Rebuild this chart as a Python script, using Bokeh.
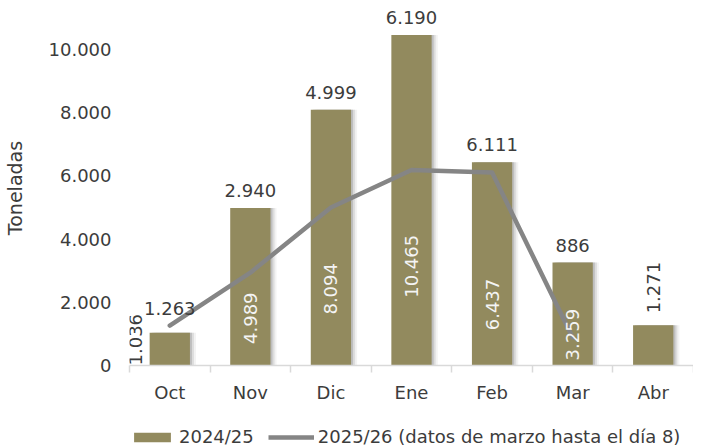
import numpy as np
from bokeh.plotting import figure
from bokeh.layouts import column
from bokeh.models import FixedTicker, Range1d, Legend, LegendItem
from bokeh.core.properties import value
from bokeh.embed import file_html
from bokeh.resources import INLINE

months = ["Oct", "Nov", "Dic", "Ene", "Feb", "Mar", "Abr"]
s2425 = [1036, 4989, 8094, 10465, 6437, 3259, 1271]
s2526 = [1263, 2940, 4999, 6190, 6111, 886]
series_names = ["2024/25", "2025/26 (datos de marzo hasta el día 8)"]
y_ticks = [0, 2000, 4000, 6000, 8000, 10000]
y_tick_labels = ["0", "2.000", "4.000", "6.000", "8.000", "10.000"]


def fmt(v):
    return f"{v:,}".replace(",", ".")


FONT = value("DejaVu Sans")
FS = "18px"
OLIVE = "#928a5e"
GRAY = "#858585"
DARK = "#3c3c3c"

xs = np.arange(len(months))
bars = np.array(s2425, dtype=float)
line = np.array(s2526, dtype=float)
xl = xs[:len(line)]

p = figure(width=693, height=405, x_range=Range1d(-0.5, len(months) - 0.5),
           y_range=Range1d(0, 11238), output_backend="svg", toolbar_location=None,
           min_border_left=122, min_border_right=0, min_border_top=10, min_border_bottom=32)
p.outline_line_color = None
p.xgrid.visible = False
p.ygrid.visible = False
p.background_fill_color = "white"

# shadows
for off, a in [(0.025, 0.45), (0.05, 0.25), (0.075, 0.12)]:
    p.vbar(x=xs + off, top=bars, width=0.5, fill_color="#9a9a9a", fill_alpha=a, line_color=None)
r_bar = p.vbar(x=xs, top=bars, width=0.5, fill_color=OLIVE, line_color=None)
r_line = p.line(xl, line, line_width=4.5, line_color=GRAY, line_join="round", line_cap="round")

# line labels (above max of bar/line)
top = np.maximum(bars[:len(line)], line)
p.text(x=xl, y=top, text=[fmt(v) for v in s2526], text_font=FONT, text_font_size=FS,
       text_color=DARK, text_align="center", text_baseline="bottom", y_offset=-11)

# inside bar labels
inside = [i for i in range(len(bars)) if bars[i] >= 2000]
p.text(x=xs[inside], y=bars[inside] * 0.3, text=[fmt(s2425[i]) for i in inside],
       text_font=FONT, text_font_size=FS, text_color="#f4f4f4", angle=np.pi / 2,
       text_align="center", text_baseline="middle")
# small bar with a line value: label left of bar
small_l = [i for i in range(len(bars)) if bars[i] < 2000 and i < len(line)]
p.text(x=xs[small_l] - 0.42, y=[0] * len(small_l), text=[fmt(s2425[i]) for i in small_l],
       text_font=FONT, text_font_size=FS, text_color=DARK, angle=np.pi / 2,
       text_align="left", text_baseline="middle")
# small bar without line value: label above
small_a = [i for i in range(len(bars)) if bars[i] < 2000 and i >= len(line)]
p.text(x=xs[small_a], y=bars[small_a], text=[fmt(s2425[i]) for i in small_a],
       text_font=FONT, text_font_size=FS, text_color=DARK, angle=np.pi / 2,
       text_align="left", text_baseline="middle", y_offset=-12)

# x axis
xa = p.xaxis[0]
xa.ticker = FixedTicker(ticks=list(xs), minor_ticks=list(np.arange(len(months) + 1) - 0.5))
xa.major_label_overrides = {int(i): m for i, m in zip(xs, months)}
xa.axis_line_color = "#d9d9d9"
xa.axis_line_width = 1.5
xa.major_tick_line_color = None
xa.minor_tick_line_color = "#d9d9d9"
xa.minor_tick_line_width = 1.5
xa.minor_tick_in = 0
xa.minor_tick_out = 7
xa.major_tick_out = 0
xa.major_label_standoff = 9
xa.major_label_text_font = "DejaVu Sans"
xa.major_label_text_font_size = FS
xa.major_label_text_color = DARK

# y axis
ya = p.yaxis[0]
ya.ticker = FixedTicker(ticks=y_ticks)
ya.major_label_overrides = dict(zip(y_ticks, y_tick_labels))
ya.axis_line_color = None
ya.major_tick_line_color = None
ya.minor_tick_line_color = None
ya.major_tick_out = 0
ya.major_label_standoff = 18
ya.major_label_text_font = "DejaVu Sans"
ya.major_label_text_font_size = FS
ya.major_label_text_color = DARK
ya.axis_label = "Toneladas"
ya.axis_label_text_font = "DejaVu Sans"
ya.axis_label_text_font_size = "19px"
ya.axis_label_text_font_style = "normal"
ya.axis_label_text_color = DARK
ya.axis_label_standoff = 20

# legend strip below the chart (dummy glyphs lie outside its visible range)
lf = figure(width=693, height=42, x_range=Range1d(0, 1), y_range=Range1d(0, 1),
            output_backend="svg", toolbar_location=None, min_border=0)
lf.axis.visible = False
lf.xgrid.visible = False
lf.ygrid.visible = False
lf.outline_line_color = None
lr_bar = lf.vbar(x=[5], top=[6], bottom=[5], width=0.5, fill_color=OLIVE, line_color=None)
lr_line = lf.line(x=[5, 6], y=[5, 5], line_width=4.5, line_color=GRAY)
legend = Legend(items=[LegendItem(label=series_names[0], renderers=[lr_bar]),
                       LegendItem(label=series_names[1], renderers=[lr_line])],
                orientation="horizontal", location=(0, 0), glyph_width=46, glyph_height=12,
                label_text_font="DejaVu Sans", label_text_font_size=FS, label_text_color=DARK,
                label_standoff=4, spacing=14, padding=0, margin=0,
                border_line_color=None, background_fill_alpha=0)
lf.add_layout(legend, "center")

open("out.html", "w").write(file_html(column(p, lf, spacing=0), INLINE))
